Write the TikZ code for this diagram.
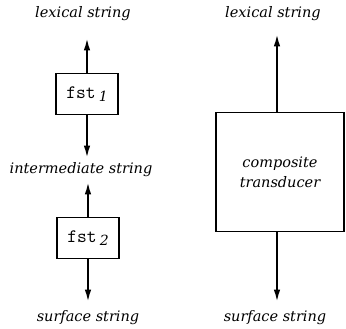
\documentclass[tikz,border=0pt]{standalone}
\usepackage{amsmath}
\usepackage{fontspec}
\setmainfont{DejaVu Serif}
\usepackage{tikz}
\usetikzlibrary{arrows.meta,positioning}

\begin{document}
\begin{tikzpicture}[
    x=1pt, y=-1pt,
    label/.style={font=\fontsize{14.5}{17}\selectfont\itshape, inner sep=1pt},
    fstbox/.style={rectangle, draw=black, line width=1.4pt, minimum width=62pt, minimum height=41pt, font=\fontsize{19}{21}\selectfont},
    bigbox/.style={rectangle, draw=black, line width=1.4pt, minimum width=128pt, minimum height=119pt, align=center, font=\fontsize{14.5}{20}\selectfont\itshape},
    arrow/.style={-{Latex[length=12pt,width=6.5pt]}, line width=1.8pt}
]
    \useasboundingbox (0,0) rectangle (346,329);
    % two transducers in a cascade
    \node[label] (lex1) at (83,14) {lexical string};
    \node[fstbox] (fst1) at (87,94) {\texttt{fst}\,{\itshape\fontsize{14}{18}\selectfont\raisebox{-3pt}{1}}};
    \node[label] (mid) at (81,170) {intermediate string};
    \node[fstbox] (fst2) at (88,238) {\texttt{fst}\,{\itshape\fontsize{14}{18}\selectfont\raisebox{-3pt}{2}}};
    \node[label] (surf1) at (88,318) {surface string};

    % one composite transducer
    \node[label] (lex2) at (273,14) {lexical string};
    \node[bigbox] (comp) at (280,172) {composite\\transducer};
    \node[label] (surf2) at (275,318) {surface string};

    \draw[arrow, shorten >=16pt] (fst1.north) -- (fst1.north |- lex1.south);
    \draw[arrow, shorten >=4pt] (fst1.south) -- (fst1.south |- mid.north);
    \draw[arrow, shorten >=4pt] (fst2.north) -- (fst2.north |- mid.south);
    \draw[arrow, shorten >=8pt] (fst2.south) -- (fst2.south |- surf1.north);
    \draw[arrow, shorten >=12pt] ([xshift=-3pt]comp.north) -- ([xshift=-3pt]comp.north |- lex2.south);
    \draw[arrow, shorten >=8pt] ([xshift=-3pt]comp.south) -- ([xshift=-3pt]comp.south |- surf2.north);
\end{tikzpicture}
\end{document}
